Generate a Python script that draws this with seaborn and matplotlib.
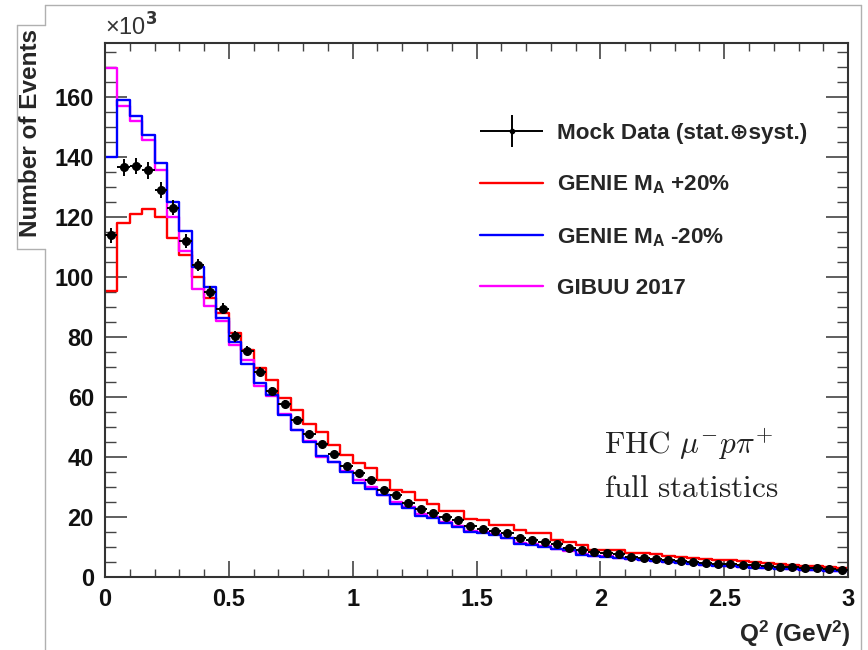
import numpy as np
import pandas as pd
import matplotlib
matplotlib.use("Agg")
import matplotlib.pyplot as plt
from matplotlib.lines import Line2D
from matplotlib.ticker import FixedLocator, MultipleLocator
from matplotlib.container import ErrorbarContainer
from matplotlib.legend_handler import HandlerErrorbar
import seaborn as sns

# ---------------- data (values in units of 10^3 events) ----------------
bin_edges_lo = 0.0
bin_edges_hi = 3.0
n_bins = 60

mock_data = [114, 136.5, 137, 135.5, 129, 123, 112, 104, 95, 89.5,
             80.2, 75.5, 68.4, 62, 57.7, 52.3, 47.7, 44.3, 41, 37,
             34.8, 32.3, 29, 27.3, 24.8, 22.6, 21.4, 19.9, 19, 17,
             16.2, 15.5, 14.6, 12.9, 12.3, 11.8, 10.9, 9.8, 9.0, 8.4,
             8.2, 7.6, 6.8, 6.4, 6.0, 5.7, 5.4, 5.1, 4.8, 4.5,
             4.3, 4.1, 3.9, 3.7, 3.5, 3.3, 3.1, 2.9, 2.7, 2.5]
mock_err = [2.5, 2.8, 2.8, 2.8, 2.7, 2.5, 2.3, 2.1, 2.0, 1.9,
            1.7, 1.6, 1.5, 1.4, 1.3, 1.2, 1.1, 1.0, 1.0, 0.9,
            0.9, 0.8, 0.8, 0.7, 0.7, 0.6, 0.6, 0.6, 0.5, 0.5,
            0.5, 0.5, 0.4, 0.4, 0.4, 0.4, 0.4, 0.3, 0.3, 0.3,
            0.3, 0.3, 0.3, 0.3, 0.3, 0.3, 0.3, 0.3, 0.3, 0.3,
            0.3, 0.3, 0.3, 0.3, 0.3, 0.3, 0.3, 0.3, 0.3, 0.3]
genie_ma_plus20 = [95.5, 118, 121, 122.5, 120, 113, 107.5, 100, 93, 88,
                   81.3, 75.8, 69.6, 65.7, 59.6, 55.7, 51.2, 48.4, 44, 40.7,
                   37.9, 36.3, 32.3, 29, 28.5, 25.7, 24.5, 22.1, 22.1, 19.3,
                   19, 17.3, 17.3, 15.7, 14.6, 14.6, 12.5, 11.8, 10.7, 9.2,
                   9.2, 9.2, 8.1, 7.9, 7.6, 7.2, 6.8, 6.3, 5.9, 5.6,
                   5.7, 5.4, 5.0, 4.7, 4.4, 4.1, 3.8, 3.6, 3.3, 3.2]
genie_ma_minus20 = [140, 159, 153.5, 147.3, 138, 125, 115.5, 103.5, 96.8, 86.5,
                    78.5, 71, 64.8, 60.7, 54, 49, 45.1, 40.5, 38.4, 35.1,
                    31.5, 29.5, 27.3, 24.5, 23, 20.3, 19.8, 18, 16.7, 15,
                    14.6, 14, 13.2, 11, 10.8, 10.1, 9.3, 9.0, 7.5, 7.0,
                    6.8, 6.3, 6.0, 5.7, 5.3, 5.0, 4.8, 4.5, 4.1, 3.8,
                    3.6, 3.4, 3.2, 3.0, 2.8, 2.6, 2.4, 2.3, 2.1, 2.0]
gibuu_2017 = [169.5, 157, 152, 145.5, 135.5, 120, 108.7, 96, 90.5, 85.3,
              77.3, 72.3, 63.8, 60.5, 54.5, 49, 45.5, 40.1, 38.5, 35.5,
              32.5, 30, 27.5, 25, 23.5, 21, 20, 18.5, 17, 15.5,
              15, 14.5, 13, 11.5, 11, 10.3, 9.5, 8.8, 7.8, 7.2,
              7.0, 6.5, 6.1, 5.8, 5.4, 5.1, 4.9, 4.6, 4.2, 3.9,
              3.7, 3.5, 3.3, 3.1, 2.9, 2.7, 2.5, 2.4, 2.2, 2.1]

legend_labels = ["Mock Data (stat.\u2295syst.)",
                 r"GENIE M$_\mathbf{A}$ +20%",
                 r"GENIE M$_\mathbf{A}$ -20%",
                 "GIBUU 2017"]
x_ticks = [0, 0.5, 1, 1.5, 2, 2.5, 3]
x_tick_labels = ["0", "0.5", "1", "1.5", "2", "2.5", "3"]
y_ticks = [0, 20, 40, 60, 80, 100, 120, 140, 160]
y_tick_labels = ["0", "20", "40", "60", "80", "100", "120", "140", "160"]

# ---------------- style ----------------
sns.set_style("ticks")
plt.rcParams["font.family"] = ["Liberation Sans", "DejaVu Sans"]
plt.rcParams["font.weight"] = "bold"
plt.rcParams["mathtext.fontset"] = "custom"
plt.rcParams["mathtext.rm"] = "Liberation Sans:bold"
plt.rcParams["mathtext.bf"] = "Liberation Sans:bold"
plt.rcParams["mathtext.it"] = "Liberation Sans:bold"

edges = np.linspace(bin_edges_lo, bin_edges_hi, n_bins + 1)
centers = 0.5 * (edges[:-1] + edges[1:])
df = pd.DataFrame({"q2": centers,
                   "mock": mock_data,
                   "err": mock_err,
                   "plus": genie_ma_plus20,
                   "minus": genie_ma_minus20,
                   "gibuu": gibuu_2017})

fig = plt.figure(figsize=(8.68, 6.5), dpi=100)
ax = fig.add_axes([0.121, 0.112, 0.856, 0.822])

series = [("plus", "#ff0000"), ("gibuu", "#ff00ff"), ("minus", "#0000ff")]
for col, color in series:
    sns.histplot(data=df, x="q2", weights=col, bins=n_bins,
                 binrange=(bin_edges_lo, bin_edges_hi), element="step",
                 fill=False, color=color, linewidth=1.7, ax=ax)

ax.errorbar(df["q2"], df["mock"], yerr=df["err"], xerr=0.025, fmt="o",
            color="black", ms=5.5, elinewidth=1.4, capsize=0, zorder=5)

ax.set_xlim(0, 3)
ax.set_ylim(0, 178)
ax.set_xlabel("")
ax.set_ylabel("")

ax.xaxis.set_major_locator(FixedLocator(x_ticks))
ax.set_xticklabels(x_tick_labels)
ax.xaxis.set_minor_locator(MultipleLocator(0.1))
ax.yaxis.set_major_locator(FixedLocator(y_ticks))
ax.set_yticklabels(y_tick_labels)
ax.yaxis.set_minor_locator(MultipleLocator(5))

for lbl in ax.get_xticklabels() + ax.get_yticklabels():
    lbl.set_fontweight("bold")
    lbl.set_fontsize(17)
    lbl.set_color("#111111")

ax.tick_params(axis="x", which="major", direction="in", top=True, length=11.5, width=1.2, pad=8)
ax.tick_params(axis="x", which="minor", direction="in", top=True, length=5.8, width=1.0)
ax.tick_params(axis="y", which="major", direction="in", right=True, length=16, width=1.2, pad=8)
ax.tick_params(axis="y", which="minor", direction="in", right=True, length=8, width=1.0)
ax.tick_params(colors="#444444", which="both", labelcolor="#111111")
for s in ax.spines.values():
    s.set_linewidth(1.5)
    s.set_color("#333333")
    s.set_visible(True)

# axis titles (ROOT style)
ax.text(1.003, -0.107, r"Q$^\mathbf{2}$ (GeV$^\mathbf{2}$)", transform=ax.transAxes,
        ha="right", va="center", fontsize=17.5, fontweight="bold")
fig.text(0.035, 0.955, "Number of Events", rotation=90, ha="center", va="top",
         fontsize=17.5, fontweight="bold")
ax.text(0.0, 1.005, "\u00d710$^\\mathrm{3}$", transform=ax.transAxes, ha="left",
        va="bottom", fontsize=17, fontweight="normal", color="#333333",
        math_fontfamily="dejavusans")

# annotation
ax.text(0.672, 0.248, r"$\mathrm{FHC}\ \mu^{-}p\pi^{+}$", transform=ax.transAxes,
        fontsize=22.5, math_fontfamily="cm", ha="left", va="center", color="#222222")
ax.text(0.672, 0.165, r"$\mathrm{full\ statistics}$", transform=ax.transAxes,
        fontsize=22.5, math_fontfamily="cm", ha="left", va="center", color="#222222")

# legend
h_data = ax.errorbar([], [], yerr=[], xerr=[], fmt="o", color="black", ms=3,
                     elinewidth=1.4, capsize=0)
handles = [h_data,
           Line2D([], [], color="#ff0000", lw=1.7),
           Line2D([], [], color="#0000ff", lw=1.7),
           Line2D([], [], color="#ff00ff", lw=1.7)]
leg = ax.legend(handles, legend_labels, loc="upper left",
                bbox_to_anchor=(0.493, 0.867), frameon=False,
                prop={"family": ["Liberation Sans", "DejaVu Sans"], "weight": "bold", "size": 16.2},
                handlelength=2.8, handletextpad=0.62, labelspacing=1.32,
                borderaxespad=0,
                handler_map={ErrorbarContainer: HandlerErrorbar(xerr_size=1.4, yerr_size=0.72)})

# outer framing lines (screenshot border)
gray = "#b0b0b0"
W, H = 868.0, 650.0
def fl(x0, y0, x1, y1):
    fig.add_artist(Line2D([x0 / W, x1 / W], [1 - y0 / H, 1 - y1 / H],
                          color=gray, lw=1.0, transform=fig.transFigure))
fl(45, 5, 861, 5)
fl(45, 5, 45, 25)
fl(17, 25, 45, 25)
fl(17, 25, 17, 249)
fl(17, 249, 45, 249)
fl(45, 249, 45, 650)
fl(861, 5, 861, 650)

fig.savefig("out.png", dpi=100)
